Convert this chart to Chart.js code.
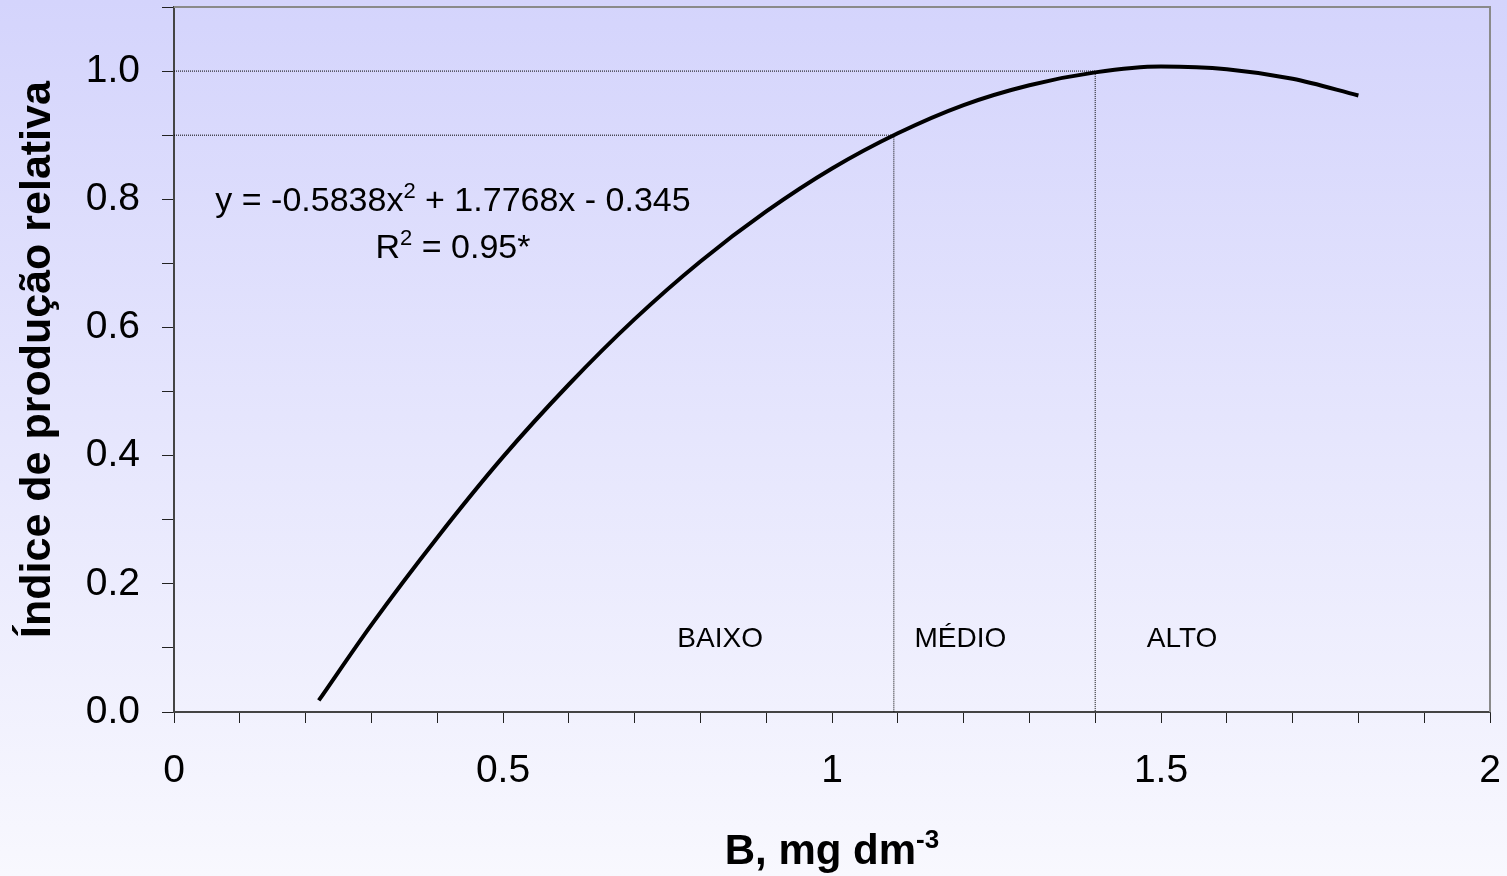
<!DOCTYPE html>
<html>
<head>
<meta charset="utf-8">
<script src="https://cdn.jsdelivr.net/npm/chart.js@4"></script>
<style>
  html, body { margin: 0; padding: 0; }
  body {
    width: 1507px; height: 876px; overflow: hidden;
    background: linear-gradient(to bottom, #d4d4fc 0%, #f8f8fe 100%);
  }
  canvas { display: block; }
</style>
</head>
<body>
<canvas id="chart" width="1507" height="876"></canvas>
<script>
// Boron content in soil (mg dm-3) and relative yield index along the fitted curve
const boronLevels   = [0.22, 0.3, 0.4, 0.5, 0.6, 0.7, 0.8, 0.9, 1.0, 1.1, 1.2, 1.3, 1.4, 1.5, 1.6, 1.7, 1.8];
const relativeYield = [0.018, 0.136, 0.272, 0.398, 0.511, 0.613, 0.703, 0.781, 0.848, 0.903, 0.947, 0.978, 0.998, 1.007, 1.003, 0.988, 0.962];

// Critical levels: 90% and 100% of relative yield, and the boron contents where they are reached
const thresholdYield = [0.9, 1.0];
const thresholdBoron = [1.094, 1.40];

// Interpretation classes
const classNames   = ['BAIXO', 'MÉDIO', 'ALTO'];
const classCenters = [0.83, 1.195, 1.532];

// Axis tick labels
const xTickLabels = ['0', '0.5', '1', '1.5', '2'];
const yTickLabels = ['0.0', '0.2', '0.4', '0.6', '0.8', '1.0'];

// Text anchors (data coordinates)
const textAnchors = { fitX: 0.424, fitLine1Y: 0.781, fitLine2Y: 0.7078, classY: 0.101 };

const FONT = '"Liberation Sans", Arial, sans-serif';

const curvePoints = boronLevels.map((x, i) => ({ x, y: relativeYield[i] }));
const guideLines = thresholdYield.map((y, i) => [
  { x: 0, y }, { x: thresholdBoron[i], y }, { x: thresholdBoron[i], y: 0 }
]);

function pickLabel(list, value) {
  const hit = list.find(l => Math.abs(Number(l) - value) < 1e-6);
  return hit === undefined ? '' : hit;
}

// Draw a run of text pieces (some raised as superscripts) centred on cx
function drawRuns(ctx, runs, cx, baseline) {
  let total = 0;
  runs.forEach(r => { ctx.font = r.font; r.w = ctx.measureText(r.text).width; total += r.w; });
  let x = cx - total / 2;
  ctx.textAlign = 'left';
  ctx.textBaseline = 'alphabetic';
  runs.forEach(r => {
    ctx.font = r.font;
    ctx.fillText(r.text, x, baseline - (r.rise || 0));
    x += r.w;
  });
}

// Keep the plot area fixed: no extra room reserved for overhanging tick labels
function noOverhang(scale) {
  scale.paddingTop = 0;
  scale.paddingBottom = 0;
  scale.paddingLeft = 0;
  scale.paddingRight = 0;
}

const annotations = {
  id: 'annotations',
  afterDatasetsDraw(chart) {
    const { ctx, chartArea: a, scales: { x, y } } = chart;
    ctx.save();
    // frame: top and right edges
    ctx.strokeStyle = '#8a8a8a';
    ctx.lineWidth = 2;
    ctx.beginPath();
    ctx.moveTo(a.left, a.top);
    ctx.lineTo(a.right, a.top);
    ctx.lineTo(a.right, a.bottom);
    ctx.stroke();

    ctx.fillStyle = '#000';
    // regression equation
    const eq = `34px ${FONT}`, sup = `22px ${FONT}`;
    const cx = x.getPixelForValue(textAnchors.fitX);
    drawRuns(ctx, [
      { text: 'y = -0.5838x', font: eq },
      { text: '2', font: sup, rise: 13 },
      { text: ' + 1.7768x - 0.345', font: eq }
    ], cx, y.getPixelForValue(textAnchors.fitLine1Y));
    drawRuns(ctx, [
      { text: 'R', font: eq },
      { text: '2', font: sup, rise: 13 },
      { text: ' = 0.95*', font: eq }
    ], cx, y.getPixelForValue(textAnchors.fitLine2Y));

    // class names
    ctx.font = `28px ${FONT}`;
    ctx.textAlign = 'center';
    ctx.textBaseline = 'alphabetic';
    classNames.forEach((name, i) => {
      ctx.fillText(name, x.getPixelForValue(classCenters[i]), y.getPixelForValue(textAnchors.classY));
    });

    // x-axis title with superscript
    drawRuns(ctx, [
      { text: 'B, mg dm', font: `bold 42px ${FONT}` },
      { text: '-3', font: `bold 26px ${FONT}`, rise: 16 }
    ], (a.left + a.right) / 2, 864);
    ctx.restore();
  }
};

new Chart(document.getElementById('chart'), {
  type: 'scatter',
  data: {
    datasets: [
      {
        data: curvePoints,
        showLine: true,
        borderColor: '#000',
        borderWidth: 4,
        pointRadius: 0,
        cubicInterpolationMode: 'monotone',
        order: 0
      },
      ...guideLines.map(pts => ({
        data: pts,
        showLine: true,
        borderColor: '#000',
        borderWidth: 1,
        borderDash: [1, 1],
        pointRadius: 0,
        tension: 0,
        order: 1
      }))
    ]
  },
  options: {
    responsive: false,
    animation: false,
    layout: { padding: { top: 7, right: 17, left: 0, bottom: 0 } },
    plugins: { legend: { display: false }, tooltip: { enabled: false } },
    scales: {
      x: {
        type: 'linear', min: 0, max: 2,
        afterFit(scale) { scale.height = 164; noOverhang(scale); },
        border: { color: '#444', width: 2 },
        grid: { drawOnChartArea: false, drawTicks: true, tickLength: 11, tickColor: '#222', tickWidth: 1 },
        ticks: {
          stepSize: 0.1, autoSkip: false, maxRotation: 0, padding: 25,
          color: '#000', font: { family: FONT, size: 39 },
          callback: v => pickLabel(xTickLabels, v)
        }
      },
      y: {
        type: 'linear', min: 0, max: 1.1,
        afterFit(scale) { scale.width = 174; noOverhang(scale); },
        border: { color: '#444', width: 2 },
        grid: { drawOnChartArea: false, drawTicks: true, tickLength: 12, tickColor: '#222', tickWidth: 1 },
        ticks: {
          stepSize: 0.1, autoSkip: false, padding: 22,
          color: '#000', font: { family: FONT, size: 39 },
          callback: v => pickLabel(yTickLabels, v)
        },
        title: {
          display: true,
          text: 'Índice de produção relativa',
          color: '#000',
          font: { family: FONT, size: 43, weight: 'bold' },
          padding: { top: 12, bottom: 0 }
        }
      }
    }
  },
  plugins: [annotations]
});
</script>
</body>
</html>
